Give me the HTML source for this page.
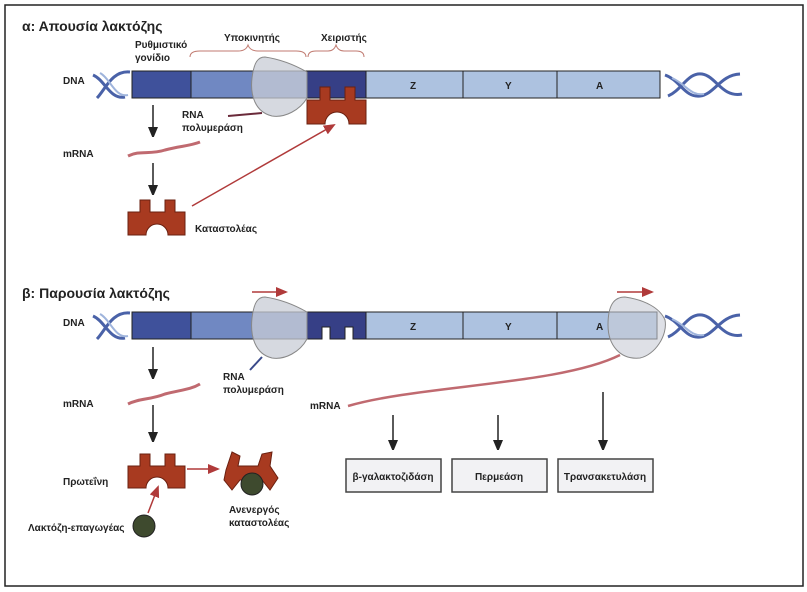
<!DOCTYPE html>
<html><head><meta charset="utf-8"><style>
body{margin:0;background:#fff;}
svg{display:block;font-family:"Liberation Sans",sans-serif;}
.t{font-weight:bold;font-size:10px;fill:#222;}
</style></head><body>
<svg width="807" height="592" viewBox="0 0 807 592" xmlns="http://www.w3.org/2000/svg">
<defs>
<marker id="ab" markerWidth="10" markerHeight="12" refX="6" refY="5" orient="auto" markerUnits="userSpaceOnUse"><path d="M0,0 L12,5 L0,10Z" fill="#222"/></marker>
<marker id="ar" markerWidth="12" markerHeight="10" refX="10" refY="5" orient="auto" markerUnits="userSpaceOnUse"><path d="M0,0 L12,5 L0,10Z" fill="#b03a3a"/></marker>
<g id="helixL"><path d="M93,75 C105,80 110,100 125,97 M97,98 C105,90 112,70 130,72" stroke="#4a62a8" stroke-width="3" fill="none"/><path d="M100,73 C110,78 115,98 128,95" stroke="#9fb4dc" stroke-width="2" fill="none"/></g>
<g id="helixR"><path d="M665,75 C680,80 685,98 700,96 C715,94 720,75 740,74 M668,96 C682,90 688,72 702,74 C716,76 722,98 742,94" stroke="#4a62a8" stroke-width="3" fill="none"/><path d="M672,78 C686,84 690,96 704,94" stroke="#9fb4dc" stroke-width="2" fill="none"/></g>
</defs>
<rect x="5" y="5" width="798" height="581" fill="none" stroke="#222" stroke-width="1.5"/>

<text x="22" y="31" font-size="14" font-weight="bold" fill="#222">α: Απουσία λακτόζης</text>
<text class="t" x="135" y="48">Ρυθμιστικό</text>
<text class="t" x="135" y="61">γονίδιο</text>
<text class="t" x="224" y="41">Υποκινητής</text>
<text class="t" x="321" y="41">Χειριστής</text>
<path d="M190,57 q0,-6 10,-6 h38 q8,0 10,-6 q2,6 10,6 h38 q10,0 10,6" stroke="#c07a70" fill="none"/>
<path d="M308,57 q0,-6 8,-6 h12 q6,0 8,-6 q2,6 8,6 h12 q8,0 8,6" stroke="#c07a70" fill="none"/>
<text class="t" x="63" y="84">DNA</text>
<use href="#helixL"/>
<rect x="132" y="71" width="59" height="27" fill="#3f519b" stroke="#222"/>
<rect x="191" y="71" width="116" height="27" fill="#7088c2" stroke="#222"/>
<rect x="307" y="71" width="59" height="27" fill="#363f86" stroke="#222"/>
<rect x="366" y="71" width="97" height="27" fill="#adc2e0" stroke="#222"/>
<rect x="463" y="71" width="94" height="27" fill="#adc2e0" stroke="#222"/>
<rect x="557" y="71" width="103" height="27" fill="#adc2e0" stroke="#222"/>
<text class="t" x="410" y="89" font-size="9">Z</text><text class="t" x="505" y="89" font-size="9">Y</text><text class="t" x="596" y="89" font-size="9">A</text>
<use href="#helixR"/>
<path d="M265,57 C285,60 300,68 307,72 L307,98 C300,110 285,118 272,116 C255,112 250,95 252,78 C254,62 258,57 265,57Z" fill="#c8ccd6" fill-opacity="0.75" stroke="#888"/>
<path d="M228,116 L262,113" stroke="#6a2a3a" stroke-width="2"/>
<text class="t" x="182" y="118">RNA</text><text class="t" x="182" y="131">πολυμεράση</text>
<path d="M307,100 H320 V87 H330 V100 H345 V87 H355 V100 H366 V124 H349 A12,12 0 0 0 325,124 H307Z" fill="#a83a20" stroke="#6a2010"/>
<line x1="153" y1="105" x2="153" y2="133" stroke="#222" stroke-width="1.5" marker-end="url(#ab)"/>
<text class="t" x="63" y="157">mRNA</text>
<path d="M128,156 C140,150 150,155 165,150 C180,146 190,146 200,142" stroke="#c06a70" stroke-width="3" fill="none"/>
<line x1="153" y1="163" x2="153" y2="191" stroke="#222" stroke-width="1.5" marker-end="url(#ab)"/>
<path d="M128,212 H140 V200 H150 V212 H165 V200 H175 V212 H185 V235 H168 A11,11 0 0 0 146,235 H128Z" fill="#a83a20" stroke="#6a2010"/>
<text class="t" x="195" y="232">Καταστολέας</text>
<line x1="192" y1="206" x2="334" y2="125" stroke="#b03a3a" stroke-width="1.5" marker-end="url(#ar)"/>

<text x="22" y="298" font-size="14" font-weight="bold" fill="#222">β: Παρουσία λακτόζης</text>
<text class="t" x="63" y="326">DNA</text>
<g transform="translate(0,241)"><use href="#helixL"/><use href="#helixR"/></g>
<rect x="132" y="312" width="59" height="27" fill="#3f519b" stroke="#222"/>
<rect x="191" y="312" width="116" height="27" fill="#7088c2" stroke="#222"/>
<path d="M307,312 H366 V339 H353 V327 H345 V339 H330 V327 H322 V339 H307Z" fill="#363f86" stroke="#222"/>
<rect x="366" y="312" width="97" height="27" fill="#adc2e0" stroke="#222"/>
<rect x="463" y="312" width="94" height="27" fill="#adc2e0" stroke="#222"/>
<rect x="557" y="312" width="100" height="27" fill="#adc2e0" stroke="#222"/>
<text class="t" x="410" y="330" font-size="9">Z</text><text class="t" x="505" y="330" font-size="9">Y</text><text class="t" x="596" y="330" font-size="9">A</text>
<path d="M265,297 C285,300 300,308 307,312 L307,339 C300,352 285,360 272,358 C255,354 250,336 252,318 C254,302 258,297 265,297Z" fill="#c8ccd6" fill-opacity="0.75" stroke="#888"/>
<path d="M250,370 L262,357" stroke="#3a4a8a" stroke-width="2"/>
<line x1="252" y1="292" x2="286" y2="292" stroke="#b03a3a" stroke-width="1.5" marker-end="url(#ar)"/>
<text class="t" x="223" y="380">RNA</text><text class="t" x="223" y="393">πολυμεράση</text>
<path d="M625,297 C645,300 660,308 665,320 C668,335 655,355 640,358 C620,360 608,345 608,325 C608,305 614,297 625,297Z" fill="#c8ccd6" fill-opacity="0.6" stroke="#888"/>
<line x1="617" y1="292" x2="652" y2="292" stroke="#b03a3a" stroke-width="1.5" marker-end="url(#ar)"/>
<path d="M348,406 C420,385 560,385 620,355" stroke="#c06a70" stroke-width="2.5" fill="none"/>
<text class="t" x="310" y="409">mRNA</text>
<line x1="153" y1="347" x2="153" y2="375" stroke="#222" stroke-width="1.5" marker-end="url(#ab)"/>
<text class="t" x="63" y="407">mRNA</text>
<path d="M128,404 C140,398 150,400 165,394 C180,390 190,390 200,384" stroke="#c06a70" stroke-width="3" fill="none"/>
<line x1="153" y1="405" x2="153" y2="438" stroke="#222" stroke-width="1.5" marker-end="url(#ab)"/>
<path d="M128,466 H140 V454 H150 V466 H165 V454 H175 V466 H185 V488 H168 A11,11 0 0 0 146,488 H128Z" fill="#a83a20" stroke="#6a2010"/>
<text class="t" x="63" y="485">Πρωτεΐνη</text>
<line x1="187" y1="469" x2="218" y2="469" stroke="#b03a3a" stroke-width="1.5" marker-end="url(#ar)"/>
<path d="M226,470 L232,452 L240,456 L238,466 L258,466 L262,454 L272,452 L270,466 L278,478 L270,490 L262,480 L240,480 L232,490 L224,480Z" fill="#a83a20" stroke="#6a2010"/>
<circle cx="252" cy="484" r="11" fill="#3e4a2e" stroke="#222"/>
<text class="t" x="229" y="513">Ανενεργός</text><text class="t" x="229" y="526">καταστολέας</text>
<line x1="148" y1="513" x2="158" y2="487" stroke="#b03a3a" stroke-width="1.5" marker-end="url(#ar)"/>
<circle cx="144" cy="526" r="11" fill="#3e4a2e" stroke="#222"/>
<text class="t" x="28" y="531">Λακτόζη-επαγωγέας</text>

<line x1="393" y1="415" x2="393" y2="446" stroke="#222" stroke-width="1.5" marker-end="url(#ab)"/>
<line x1="498" y1="415" x2="498" y2="446" stroke="#222" stroke-width="1.5" marker-end="url(#ab)"/>
<line x1="603" y1="392" x2="603" y2="446" stroke="#222" stroke-width="1.5" marker-end="url(#ab)"/>
<rect x="346" y="459" width="95" height="33" fill="#f2f2f4" stroke="#444" stroke-width="1.5"/>
<rect x="452" y="459" width="95" height="33" fill="#f2f2f4" stroke="#444" stroke-width="1.5"/>
<rect x="558" y="459" width="95" height="33" fill="#f2f2f4" stroke="#444" stroke-width="1.5"/>
<text class="t" x="393" y="480" text-anchor="middle">β-γαλακτοζιδάση</text>
<text class="t" x="499" y="480" text-anchor="middle">Περμεάση</text>
<text class="t" x="605" y="480" text-anchor="middle">Τρανσακετυλάση</text>
</svg>
</body></html>
